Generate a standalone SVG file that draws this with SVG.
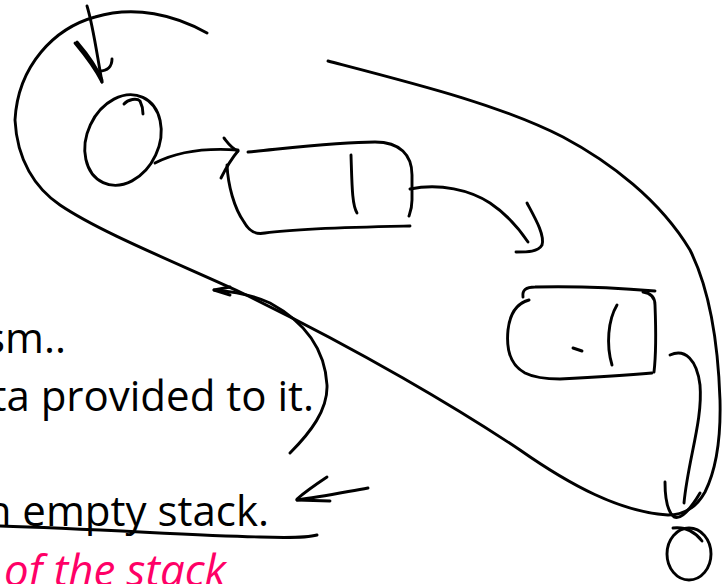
<svg xmlns="http://www.w3.org/2000/svg" width="727" height="584" viewBox="0 0 727 584">
  <style>
    .ink { fill: none; stroke: #000; stroke-width: 2.9; stroke-linecap: round; stroke-linejoin: round; }
    .txt { font-family: "Open Sans", "Noto Sans", "Liberation Sans", sans-serif; font-size: 42px; fill: #000; }
    .pink { font-family: "Open Sans", "Noto Sans", "Liberation Sans", sans-serif; font-size: 43px; font-style: italic; fill: #FF0066; }
  </style>
  <rect width="727" height="584" fill="#fff"/>

  <g id="text">
    <text class="txt" x="66" y="353" text-anchor="end">sm..</text>
    <text class="txt" x="314" y="411" text-anchor="end">ta provided to it.</text>
    <text class="txt" x="269" y="526" text-anchor="end">n empty stack.</text>
    <text class="pink" x="4" y="586" textLength="222" lengthAdjust="spacingAndGlyphs">of the stack</text>
  </g>

  <g id="loop">
    <path class="ink" d="M328,61 C420,85 500,105 563,137 C610,162 660,200 690,250 C710,290 718,340 720,400 C721,440 716,470 705,492 C695,510 682,515 668,515 C620,512 570,485 520,450 C460,410 360,350 240,292 C170,260 100,232 60,205 C35,188 17,160 15,120 C18,65 55,28 95,17 C135,5 175,15 207,33"/>
  </g>

  <g id="node-start">
    <ellipse class="ink" cx="123" cy="140" rx="36" ry="47" transform="rotate(25 123 140)"/>
    <path class="ink" d="M124,104 C128,99 137,98 140,101 C142,105 143,110 143,114"/>
  </g>

  <g id="node-box1">
    <path class="ink" d="M248,152 C290,148 340,142 375,142 C400,142 412,155 412,175 L412,200 C412,208 410,213 409,216"/>
    <path class="ink" d="M227,165 C228,185 234,208 244,222 C249,231 255,235 265,233 C300,228 360,227 410,226"/>
    <path class="ink" d="M351,155 C352,185 352,205 357,213"/>
  </g>

  <g id="node-box2">
    <path class="ink" d="M523,297 C522,290 526,287 535,287 C580,286 620,288 655,291"/>
    <path class="ink" d="M529,300 C518,303 510,312 508,330 C506,350 510,365 525,373 C535,378 545,379 560,379 C600,377 630,375 652,373"/>
    <path class="ink" d="M643,292 C650,293 655,296 655,305 C656,330 656,355 654,372"/>
    <path class="ink" d="M617,305 C608,320 606,345 612,365"/>
    <path class="ink" d="M573,348 L582,351"/>
  </g>

  <g id="node-end">
    <ellipse class="ink" cx="689" cy="554" rx="22" ry="26"/>
    <path class="ink" d="M673,528 C682,527 693,529 702,541"/>
  </g>

  <g id="connectors">
    <path class="ink" d="M87,6 C93,25 97,55 102,82"/>
    <path class="ink" d="M75,43 C85,55 95,68 102,82"/>
    <path class="ink" d="M77,42 C89,56 98,70 102,80"/>
    <path class="ink" d="M112,59 C112,66 108,71 99,71"/>
    <path class="ink" d="M155,163 C180,150 210,148 238,150"/>
    <path class="ink" d="M224,138 C228,143 231,148 238,151"/>
    <path class="ink" d="M238,151 C232,158 226,168 221,178"/>
    <path class="ink" d="M410,189 C440,183 470,190 490,203 C508,215 520,230 528,242"/>
    <path class="ink" d="M527,203 C535,218 545,235 542,245 C538,252 528,252 516,252"/>
    <path class="ink" d="M670,355 C685,348 697,360 700,385 C703,420 688,460 684,503"/>
    <path class="ink" d="M665,482 C665,500 668,512 674,517 C680,520 690,510 700,493"/>
    <path class="ink" d="M290,453 C310,433 328,410 327,385 C325,350 305,322 270,303 C255,296 240,292 214,290"/>
    <path class="ink" d="M230,287 L214,290 L230,295"/>
    <path class="ink" d="M368,488 C345,492 320,497 297,500"/>
    <path class="ink" d="M327,477 C315,485 305,492 297,499"/>
    <path class="ink" d="M297,500 L330,501"/>
    <path class="ink" d="M0,526 C100,529 200,536 260,537 C290,538 310,537 317,535"/>
  </g>
</svg>
